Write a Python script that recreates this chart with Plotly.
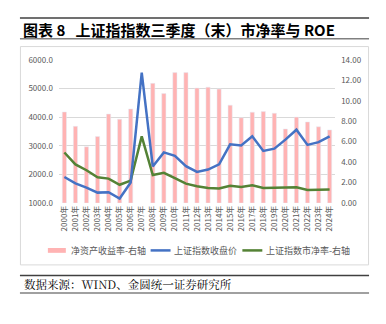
import plotly.graph_objects as go

W, H = 386, 324

years = [f"{y}年" for y in range(2000, 2025)]
roe = [8.9, 7.5, 5.5, 6.5, 8.7, 8.2, 9.2, None, 11.7, 10.7, 12.75, 12.75,
       11.24, 11.33, 11.14, 9.57, 8.34, 8.88, 8.94, 8.78, 7.24, 8.4, 7.93, 7.46, 7.15]
close = [1910, 1690, 1540, 1365, 1380, 1158, 1720, 5552, 2280, 2770, 2650, 2290,
         2086, 2170, 2350, 3050, 3008, 3330, 2820, 2900, 3215, 3560, 3030, 3125, 3330]
pb = [4.94, 3.78, 3.21, 2.52, 2.39, 1.79, 2.2, 6.52, 2.74, 2.96, 2.43, 1.9,
      1.64, 1.48, 1.42, 1.7, 1.58, 1.73, 1.48, 1.48, 1.51, 1.55, 1.28, 1.3, 1.33]

left_ticks = [1000, 2000, 3000, 4000, 5000, 6000]
right_ticks = [0, 2, 4, 6, 8, 10, 12, 14]

series_names = ["净资产收益率-右轴", "上证指数收盘价", "上证指数市净率-右轴"]
PINK, BLUE, GREEN = "#FFB3B3", "#4472C4", "#548235"

def px(x):
    return x / W

def py(y):
    return 1 - y / H

FONT = "Noto Sans CJK SC, Noto Sans, sans-serif"
TICK = "#595959"

fig = go.Figure()
fig.add_trace(go.Bar(x=years, y=roe, name=series_names[0], marker_color=PINK,
                     yaxis="y", showlegend=False))
fig.add_trace(go.Scatter(x=years, y=pb, name=series_names[2], mode="lines",
                         line=dict(color=GREEN, width=2.5), yaxis="y", showlegend=False))
fig.add_trace(go.Scatter(x=years, y=close, name=series_names[1], mode="lines",
                         line=dict(color=BLUE, width=2.5), yaxis="y2", showlegend=False))

fig.update_layout(
    width=W, height=H,
    margin=dict(l=0, r=0, t=0, b=0),
    paper_bgcolor="white", plot_bgcolor="rgba(0,0,0,0)",
    font=dict(family=FONT, color=TICK, size=8),
    bargap=0.62,
    showlegend=False,
    xaxis=dict(domain=[px(58), px(335)], type="category", tickangle=-90,
               tickfont=dict(size=8, color=TICK), showgrid=False, showline=False,
               ticks="", ticklen=0),
    yaxis=dict(domain=[py(204), py(55.7)], side="right", range=[0, 14],
               tickvals=right_ticks, tickformat=".2f", showgrid=False,
               zeroline=False, showline=False, ticklabelstandoff=5,
               tickfont=dict(size=8, color=TICK)),
    yaxis2=dict(overlaying="y", side="left", range=[1000, 6000],
                tickvals=left_ticks, tickformat=".1f", showgrid=True,
                gridcolor="#D9D9D9", gridwidth=1, zeroline=False, showline=False,
                ticklabelstandoff=5, tickfont=dict(size=8, color=TICK)),
)

shapes = [
    dict(type="line", xref="paper", yref="paper", x0=px(19), x1=px(369), y0=py(12.3), y1=py(12.3),
         line=dict(color="#404040", width=1.5)),
    dict(type="line", xref="paper", yref="paper", x0=px(19), x1=px(369), y0=py(34), y1=py(34),
         line=dict(color="#808080", width=1.5)),
    dict(type="rect", xref="paper", yref="paper", x0=px(19.5), x1=px(368.5), y0=py(42), y1=py(268),
         line=dict(color="#D9D9D9", width=1), layer="below"),
    dict(type="line", xref="paper", yref="paper", x0=px(19), x1=px(369), y0=py(279), y1=py(279),
         line=dict(color="#404040", width=1.5)),
    dict(type="line", xref="paper", yref="paper", x0=px(19), x1=px(369), y0=py(297), y1=py(297),
         line=dict(color="#808080", width=1.5)),
    # legend swatches
    dict(type="rect", xref="paper", yref="paper", x0=px(47), x1=px(65), y0=py(255.5), y1=py(250.5),
         fillcolor=PINK, line=dict(width=0)),
    dict(type="line", xref="paper", yref="paper", x0=px(150), x1=px(170), y0=py(253), y1=py(253),
         line=dict(color=BLUE, width=2.5)),
    dict(type="line", xref="paper", yref="paper", x0=px(242), x1=px(262), y0=py(253), y1=py(253),
         line=dict(color=GREEN, width=2.5)),
]
fig.update_layout(shapes=shapes)

for name, x in zip(series_names, [68, 171.5, 263.5]):
    fig.add_annotation(text=name, xref="paper", yref="paper", x=px(x), y=py(253),
                       xanchor="left", yanchor="middle", showarrow=False,
                       font=dict(size=9, color=TICK, family=FONT))

fig.add_annotation(text="<b>图表 8   上证指指数三季度（末）市净率与 ROE</b>", xref="paper", yref="paper",
                   x=px(20), y=py(24), xanchor="left", yanchor="middle", showarrow=False,
                   font=dict(size=15, color="#000000", family=FONT))
fig.add_annotation(text="数据来源：WIND、金圆统一证券研究所", xref="paper", yref="paper",
                   x=px(21), y=py(288), xanchor="left", yanchor="middle", showarrow=False,
                   font=dict(size=11.5, color="#000000", family="Noto Serif CJK SC, " + FONT))

fig.write_html("out.html")
